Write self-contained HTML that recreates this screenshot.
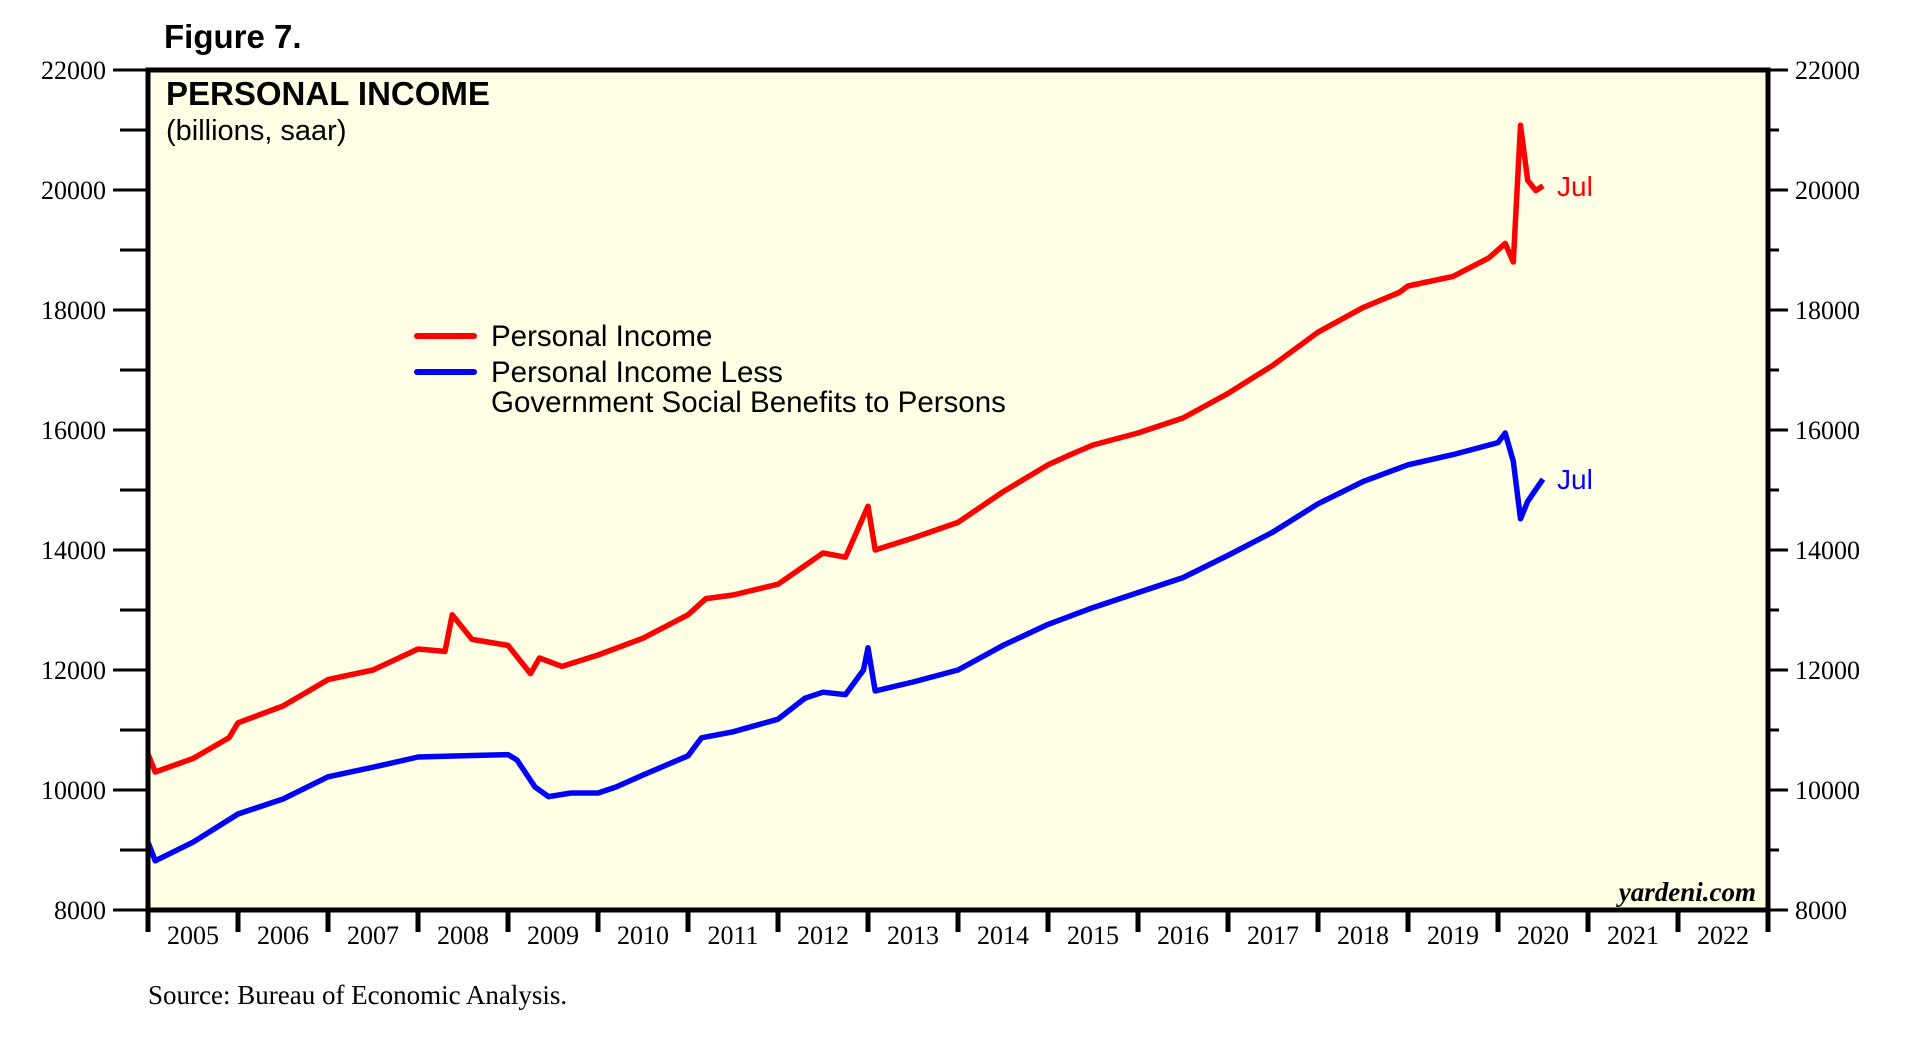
<!DOCTYPE html>
<html><head><meta charset="utf-8"><style>
html,body{margin:0;padding:0;background:#fff;}
svg{display:block;}
</style></head><body>
<svg id="chart" width="1927" height="1045" viewBox="0 0 1927 1045" xmlns="http://www.w3.org/2000/svg">
<text x="164" y="48" font-family="Liberation Sans, sans-serif" font-weight="bold" font-size="33">Figure 7.</text>
<rect x="148" y="70" width="1620" height="840" fill="#ffffe6"/>
<g id="grid"></g>
<g id="series"></g>
<rect x="148" y="70" width="1620" height="840" fill="none" stroke="#000" stroke-width="5"/>
<text x="166" y="105" font-family="Liberation Sans, sans-serif" font-weight="bold" font-size="33">PERSONAL INCOME</text>
<text x="166" y="140" font-family="Liberation Sans, sans-serif" font-size="29">(billions, saar)</text>
<g>
<line x1="417" y1="336" x2="474" y2="336" stroke="#f00" stroke-width="6" stroke-linecap="round"/>
<text x="491" y="346" font-family="Liberation Sans, sans-serif" font-size="29.5">Personal Income</text>
<line x1="417" y1="372" x2="474" y2="372" stroke="#00f" stroke-width="6" stroke-linecap="round"/>
<text x="491" y="382" font-family="Liberation Sans, sans-serif" font-size="29.5">Personal Income Less</text>
<text x="491" y="412" font-family="Liberation Sans, sans-serif" font-size="29.5">Government Social Benefits to Persons</text>
</g>
<text x="1756" y="901" text-anchor="end" font-family="Liberation Serif, serif" font-style="italic" font-weight="bold" font-size="27">yardeni.com</text>
<text x="148" y="1004" font-family="Liberation Serif, serif" font-size="27">Source: Bureau of Economic Analysis.</text>
</svg>
<script>
const yTickValues=[8000,10000,12000,14000,16000,18000,20000,22000];
const yearLabels=[2005,2006,2007,2008,2009,2010,2011,2012,2013,2014,2015,2016,2017,2018,2019,2020,2021,2022];
const piDates=[2005.0,2005.08,2005.5,2005.9,2006.0,2006.5,2007.0,2007.5,2008.0,2008.3,2008.38,2008.6,2009.0,2009.25,2009.35,2009.6,2010.0,2010.5,2011.0,2011.2,2011.5,2012.0,2012.5,2012.75,2012.95,2013.0,2013.08,2013.5,2014.0,2014.5,2015.0,2015.25,2015.5,2016.0,2016.5,2017.0,2017.5,2018.0,2018.5,2018.9,2019.0,2019.5,2019.9,2020.08,2020.17,2020.25,2020.33,2020.42,2020.5];
const piValues=[10600,10300,10525,10870,11120,11400,11840,12000,12350,12310,12920,12510,12410,11940,12200,12060,12250,12530,12920,13190,13250,13430,13950,13880,14560,14730,14000,14200,14460,14970,15420,15590,15750,15950,16200,16610,17080,17630,18040,18290,18400,18560,18870,19110,18800,21080,20160,19990,20070];
const lessDates=[2005.0,2005.08,2005.5,2006.0,2006.5,2007.0,2007.5,2008.0,2008.5,2009.0,2009.1,2009.3,2009.45,2009.7,2010.0,2010.2,2010.5,2011.0,2011.15,2011.5,2012.0,2012.3,2012.5,2012.75,2012.95,2013.0,2013.08,2013.5,2014.0,2014.5,2015.0,2015.5,2016.0,2016.5,2017.0,2017.5,2018.0,2018.5,2019.0,2019.5,2020.0,2020.08,2020.17,2020.25,2020.33,2020.42,2020.5];
const lessValues=[9130,8820,9130,9600,9850,10220,10380,10550,10570,10590,10500,10050,9890,9950,9950,10050,10250,10570,10870,10970,11180,11530,11630,11590,12000,12370,11650,11800,12000,12410,12760,13040,13290,13540,13910,14300,14770,15140,15420,15590,15790,15950,15480,14520,14810,15010,15180];
const lastLabel="Jul";

const NS="http://www.w3.org/2000/svg";
const X0=148,X1=1768,Y0=70,Y1=910,T0=2005,T1=2023,V0=8000,V1=22000;
const xs=t=>X0+(t-T0)/(T1-T0)*(X1-X0);
const ys=v=>Y1-(v-V0)/(V1-V0)*(Y1-Y0);
const svg=document.getElementById('chart');
const grid=document.getElementById('grid');
const ser=document.getElementById('series');
function mk(tag,attrs,parent){const e=document.createElementNS(NS,tag);for(const k in attrs)e.setAttribute(k,attrs[k]);parent.appendChild(e);return e;}
for(let v=V0;v<=V1;v+=1000){
  const y=ys(v);const major=(v%2000===0);
  const l=mk('line',{x1:major?113:120,x2:X0,y1:y,y2:y,stroke:'#000','stroke-width':3},grid);
  
  
  const r=mk('line',{x1:X1,x2:major?1788:1779,y1:y,y2:y,stroke:'#000','stroke-width':3},grid);
  
  
}
yTickValues.forEach(v=>{
  const y=ys(v)+9;
  const a=mk('text',{x:106,y:y,'text-anchor':'end','font-family':'Liberation Serif, serif','font-size':26},svg);
  a.textContent=v;
  
  
  const b=mk('text',{x:1795,y:y,'font-family':'Liberation Serif, serif','font-size':26},svg);
  b.textContent=v;
  
  
});
for(let i=0;i<=yearLabels.length;i++){
  const x=xs(T0+i);
  const t=mk('line',{x1:x,x2:x,y1:Y1,y2:932,stroke:'#000','stroke-width':5},svg);
  
  
}
yearLabels.forEach(yr=>{
  const t=mk('text',{x:xs(yr+0.5),y:944,'text-anchor':'middle','font-family':'Liberation Serif, serif','font-size':26},svg);
  t.textContent=yr;
  
  
});
function line(dates,vals,color,name){
  const d=dates.map((t,i)=>(i?'L':'M')+xs(t).toFixed(1)+','+ys(vals[i]).toFixed(1)).join('');
  const p=mk('path',{d:d,fill:'none',stroke:color,'stroke-width':5.5,'stroke-linejoin':'round'},ser);
  
  
  const n=dates.length-1;
  const lb=mk('text',{x:xs(dates[n])+14,y:ys(vals[n])+10,fill:color,'font-family':'Liberation Sans, sans-serif','font-size':28},svg);
  lb.textContent=lastLabel;
  
  
}
line(piDates,piValues,'#f00','personal-income-line');
line(lessDates,lessValues,'#00f','less-benefits-line');
</script>
</body></html>
